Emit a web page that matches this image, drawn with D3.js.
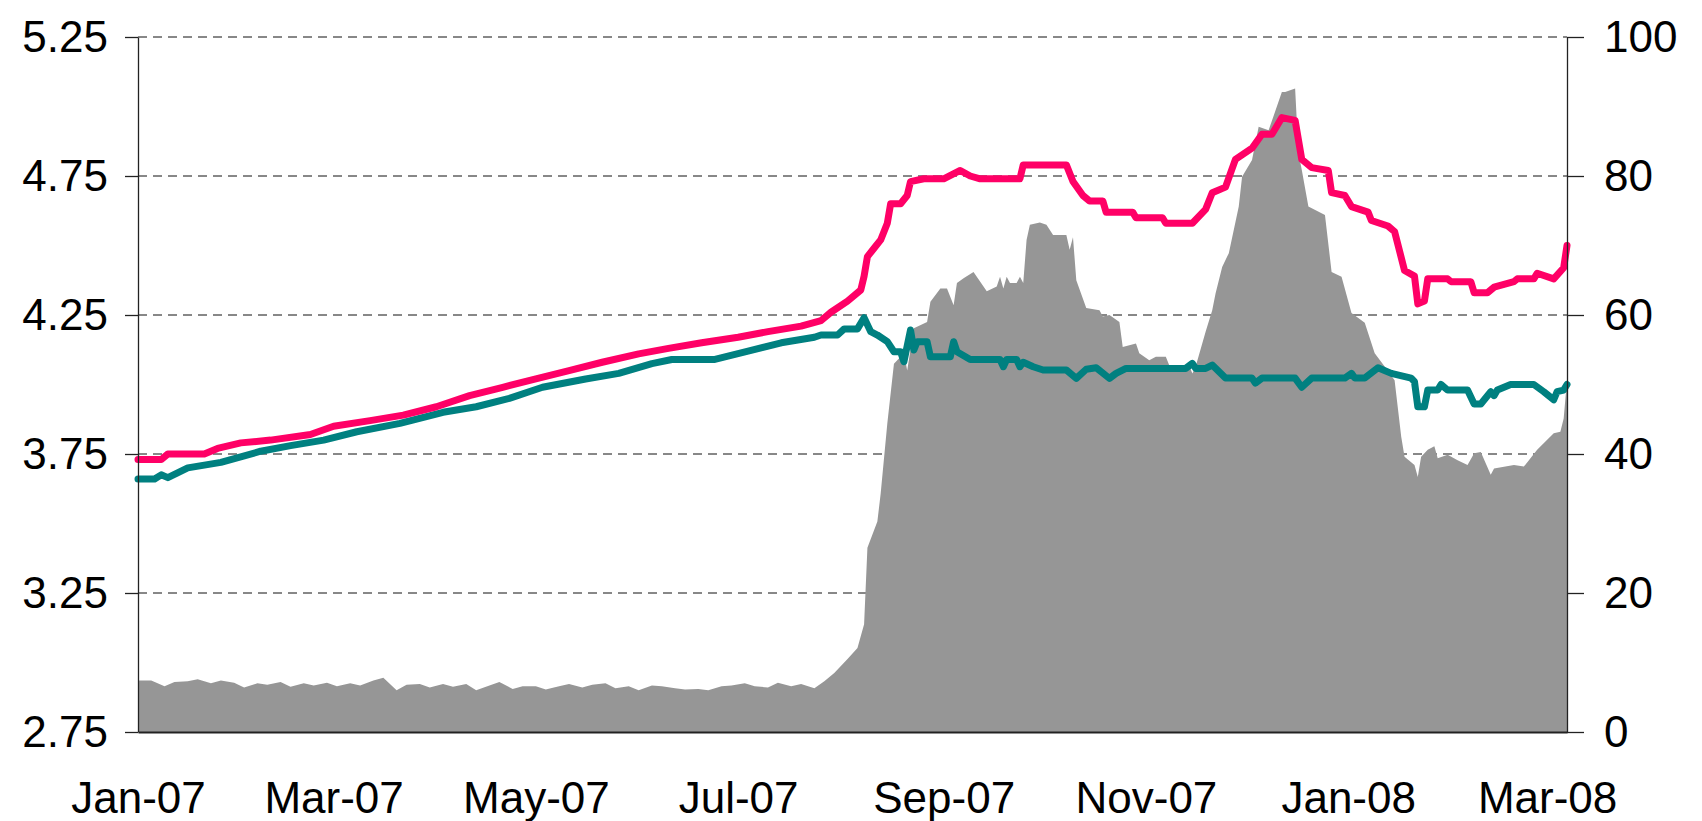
<!DOCTYPE html>
<html>
<head>
<meta charset="utf-8">
<script src="https://cdn.jsdelivr.net/npm/d3@7"></script>
<style>
  body { margin: 0; background: #fff; }
  svg text { font-family: "Liberation Sans", Arial, sans-serif; fill: #000; }
</style>
</head>
<body>
<div id="chart"></div>
<script>
// 3M rate (pink), OIS-type rate (teal) on the left axis, spread in bp (grey area) on the right axis

const euriborDates = [
  '2007-01-01','2007-01-08','2007-01-10','2007-01-21','2007-01-25','2007-02-01','2007-02-10','2007-02-22','2007-03-01','2007-03-12',
  '2007-03-22','2007-04-01','2007-04-11','2007-04-21','2007-05-01','2007-05-11','2007-05-21','2007-06-01','2007-06-10','2007-06-20',
  '2007-07-01','2007-07-10','2007-07-20','2007-07-26','2007-07-29','2007-08-03','2007-08-07','2007-08-08','2007-08-09','2007-08-11',
  '2007-08-13','2007-08-15','2007-08-16','2007-08-19','2007-08-21','2007-08-22','2007-08-26','2007-09-01','2007-09-06','2007-09-09',
  '2007-09-12','2007-09-24','2007-09-25','2007-10-08','2007-10-10','2007-10-13','2007-10-15','2007-10-19','2007-10-20','2007-10-28',
  '2007-10-29','2007-11-06','2007-11-07','2007-11-15','2007-11-19','2007-11-21','2007-11-25','2007-11-28','2007-12-03','2007-12-06',
  '2007-12-09','2007-12-12','2007-12-16','2007-12-17','2007-12-18','2007-12-21','2007-12-26','2007-12-27','2007-12-31','2008-01-02',
  '2008-01-07','2008-01-08','2008-01-13','2008-01-15','2008-01-18','2008-01-21','2008-01-22','2008-01-24','2008-01-25','2008-01-31',
  '2008-02-01','2008-02-07','2008-02-08','2008-02-12','2008-02-14','2008-02-20','2008-02-21','2008-02-26','2008-02-27','2008-03-03',
  '2008-03-06','2008-03-07'
];
const euriborValues = [
  3.73, 3.73, 3.75, 3.75, 3.77, 3.79, 3.80, 3.82, 3.85, 3.87,
  3.89, 3.92, 3.96, 3.99, 4.02, 4.05, 4.08, 4.11, 4.13, 4.15,
  4.17, 4.19, 4.21, 4.23, 4.26, 4.30, 4.34, 4.39, 4.46, 4.49,
  4.52, 4.58, 4.65, 4.65, 4.68, 4.73, 4.74, 4.74, 4.77, 4.75,
  4.74, 4.74, 4.79, 4.79, 4.73, 4.68, 4.66, 4.66, 4.62, 4.62,
  4.60, 4.60, 4.58, 4.58, 4.63, 4.69, 4.71, 4.81, 4.85, 4.90,
  4.90, 4.96, 4.95, 4.88, 4.81, 4.78, 4.77, 4.69, 4.68, 4.64,
  4.62, 4.59, 4.57, 4.55, 4.41, 4.39, 4.29, 4.30, 4.38, 4.38,
  4.37, 4.37, 4.33, 4.33, 4.35, 4.37, 4.38, 4.38, 4.40, 4.38,
  4.42, 4.50
];

const oisDates = [
  '2007-01-01','2007-01-06','2007-01-08','2007-01-10','2007-01-16','2007-01-26','2007-02-07','2007-02-16','2007-02-26','2007-03-08',
  '2007-03-21','2007-04-03','2007-04-13','2007-04-23','2007-05-03','2007-05-16','2007-05-26','2007-06-05','2007-06-11','2007-06-24',
  '2007-07-04','2007-07-14','2007-07-24','2007-07-26','2007-07-31','2007-08-02','2007-08-06','2007-08-08','2007-08-10','2007-08-12',
  '2007-08-15','2007-08-17','2007-08-19','2007-08-20','2007-08-22','2007-08-23','2007-08-24','2007-08-27','2007-08-28','2007-09-03',
  '2007-09-04','2007-09-05','2007-09-09','2007-09-18','2007-09-19','2007-09-20','2007-09-23','2007-09-24','2007-09-25','2007-09-28',
  '2007-10-01','2007-10-08','2007-10-11','2007-10-14','2007-10-17','2007-10-21','2007-10-23','2007-10-26','2007-11-13','2007-11-15',
  '2007-11-16','2007-11-19','2007-11-21','2007-11-25','2007-12-03','2007-12-04','2007-12-06','2007-12-16','2007-12-18','2007-12-21',
  '2007-12-31','2008-01-02','2008-01-03','2008-01-06','2008-01-10','2008-01-14','2008-01-20','2008-01-21','2008-01-22','2008-01-24',
  '2008-01-25','2008-01-28','2008-01-29','2008-01-31','2008-02-06','2008-02-08','2008-02-10','2008-02-13','2008-02-14','2008-02-15',
  '2008-02-19','2008-02-26','2008-02-29','2008-03-03','2008-03-04','2008-03-06','2008-03-07'
];
const oisValues = [
  3.66, 3.66, 3.675, 3.665, 3.70, 3.72, 3.76, 3.78, 3.80, 3.83,
  3.86, 3.90, 3.92, 3.95, 3.99, 4.02, 4.04, 4.075, 4.09, 4.09,
  4.12, 4.15, 4.17, 4.178, 4.178, 4.20, 4.20, 4.24, 4.19, 4.178,
  4.154, 4.118, 4.118, 4.082, 4.196, 4.124, 4.154, 4.154, 4.10, 4.10,
  4.154, 4.118, 4.09, 4.09, 4.064, 4.09, 4.09, 4.064, 4.08, 4.064,
  4.052, 4.052, 4.022, 4.055, 4.06, 4.022, 4.04, 4.058, 4.058, 4.076,
  4.058, 4.058, 4.07, 4.023, 4.023, 4.005, 4.023, 4.023, 3.99, 4.023,
  4.023, 4.04, 4.023, 4.023, 4.06, 4.04, 4.023, 4.01, 3.92, 3.92,
  3.98, 3.98, 4.00, 3.98, 3.98, 3.93, 3.93, 3.974, 3.96, 3.98,
  4.00, 4.00, 3.974, 3.945, 3.974, 3.98, 4.00
];

const spreadDates = [
  '2007-01-01','2007-01-05','2007-01-09','2007-01-12','2007-01-16','2007-01-19','2007-01-23','2007-01-26','2007-01-30','2007-02-02',
  '2007-02-06','2007-02-09','2007-02-13','2007-02-16','2007-02-20','2007-02-23','2007-02-27','2007-03-02','2007-03-06','2007-03-09',
  '2007-03-13','2007-03-16','2007-03-20','2007-03-23','2007-03-27','2007-03-30','2007-04-03','2007-04-06','2007-04-10','2007-04-13',
  '2007-04-17','2007-04-20','2007-04-24','2007-04-27','2007-05-01','2007-05-04','2007-05-08','2007-05-11','2007-05-15','2007-05-18',
  '2007-05-22','2007-05-25','2007-05-29','2007-06-01','2007-06-05','2007-06-08','2007-06-12','2007-06-15','2007-06-19','2007-06-22',
  '2007-06-26','2007-06-29','2007-07-03','2007-07-06','2007-07-10','2007-07-13','2007-07-17','2007-07-20','2007-07-24','2007-07-27',
  '2007-07-30','2007-08-03','2007-08-06','2007-08-08','2007-08-09','2007-08-12','2007-08-13','2007-08-15','2007-08-17','2007-08-20',
  '2007-08-21','2007-08-23','2007-08-27','2007-08-28','2007-08-31','2007-09-02','2007-09-04','2007-09-05','2007-09-07','2007-09-10',
  '2007-09-14','2007-09-17','2007-09-18','2007-09-19','2007-09-20','2007-09-21','2007-09-23','2007-09-24','2007-09-25','2007-09-26',
  '2007-09-27','2007-09-30','2007-10-02','2007-10-04','2007-10-08','2007-10-09','2007-10-10','2007-10-11','2007-10-14','2007-10-18',
  '2007-10-19','2007-10-21','2007-10-24','2007-10-25','2007-10-29','2007-10-30','2007-11-02','2007-11-04','2007-11-07','2007-11-08',
  '2007-11-14','2007-11-15','2007-11-16','2007-11-19','2007-11-21','2007-11-22','2007-11-24','2007-11-25','2007-11-26','2007-11-29',
  '2007-11-30','2007-12-03','2007-12-05','2007-12-08','2007-12-10','2007-12-12','2007-12-13','2007-12-16','2007-12-17','2007-12-18',
  '2007-12-20','2007-12-25','2007-12-27','2007-12-30','2008-01-02','2008-01-06','2008-01-09','2008-01-12','2008-01-15','2008-01-17',
  '2008-01-18','2008-01-21','2008-01-22','2008-01-23','2008-01-25','2008-01-27','2008-01-28','2008-01-31','2008-02-03','2008-02-06',
  '2008-02-08','2008-02-10','2008-02-13','2008-02-14','2008-02-20','2008-02-23','2008-02-27','2008-03-03','2008-03-05','2008-03-06',
  '2008-03-07'
];
const spreadValues = [
  7.4, 7.4, 6.6, 7.2, 7.3, 7.6, 7.0, 7.4, 7.1, 6.4,
  7.0, 6.8, 7.2, 6.5, 7.0, 6.7, 7.1, 6.6, 7.0, 6.7,
  7.4, 7.8, 6.0, 6.8, 6.9, 6.4, 6.9, 6.5, 6.9, 6.0,
  6.7, 7.2, 6.2, 6.6, 6.6, 6.1, 6.6, 6.9, 6.4, 6.8,
  7.0, 6.3, 6.6, 6.0, 6.7, 6.6, 6.3, 6.1, 6.2, 6.0,
  6.6, 6.7, 7.0, 6.6, 6.4, 7.1, 6.6, 6.9, 6.3, 7.3,
  8.5, 10.5, 12.1, 15.5, 26.5, 30.3, 34.3, 44.4, 53.0, 54.5,
  52.0, 58.1, 59.0, 61.9, 63.8, 63.8, 61.4, 64.6, 65.3, 66.2,
  63.4, 64.1, 65.5, 63.8, 65.5, 64.6, 64.6, 65.5, 64.6, 70.8,
  73.0, 73.3, 73.0, 71.5, 71.5, 69.4, 71.2, 65.0, 61.0, 60.7,
  59.8, 60.0, 59.0, 55.4, 55.9, 54.5, 53.5, 54.0, 54.0, 52.8,
  52.8, 51.6, 52.6, 57.6, 60.7, 63.1, 66.9, 67.9, 68.9, 75.6,
  79.9, 82.3, 87.1, 86.6, 89.3, 92.1, 92.1, 92.6, 83.3, 80.9,
  75.6, 74.4, 66.2, 65.5, 60.3, 58.9, 54.5, 52.6, 50.6, 42.5,
  39.6, 38.4, 36.7, 39.6, 40.6, 41.1, 39.4, 39.9, 39.1, 38.4,
  40.1, 40.3, 37.0, 37.9, 38.4, 38.2, 40.6, 43.0, 43.2, 45.1,
  50.6
];

const leftTicks = [2.75, 3.25, 3.75, 4.25, 4.75, 5.25];
const rightTicks = [0, 20, 40, 60, 80, 100];
const monthTicks = ['2007-01-01','2007-03-01','2007-05-01','2007-07-01','2007-09-01','2007-11-01','2008-01-01','2008-03-01'];

const parse = d3.timeParse('%Y-%m-%d');
const zip = (dates, values) => dates.map((d, i) => ({ date: parse(d), value: values[i] }));
const euribor = zip(euriborDates, euriborValues);
const ois = zip(oisDates, oisValues);
const spread = zip(spreadDates, spreadValues);

const W = 1702, H = 821;
const plot = { left: 138, right: 1567, top: 37, bottom: 732 };

const svg = d3.select('#chart').append('svg')
  .attr('width', W)
  .attr('height', H);

const x = d3.scaleTime()
  .domain([parse('2007-01-01'), parse('2008-03-07')])
  .range([plot.left, plot.right]);
const yLeft = d3.scaleLinear().domain([2.75, 5.25]).range([plot.bottom, plot.top]);
const yRight = d3.scaleLinear().domain([0, 100]).range([plot.bottom, plot.top]);

// dashed gridlines behind everything
svg.append('g')
  .selectAll('line')
  .data(leftTicks.slice(1))
  .enter()
  .append('line')
  .attr('x1', plot.left)
  .attr('x2', plot.right)
  .attr('y1', d => yLeft(d))
  .attr('y2', d => yLeft(d))
  .attr('stroke', '#111')
  .attr('stroke-width', 1)
  .attr('stroke-dasharray', '9,6');

// spread area (right axis)
svg.append('path')
  .datum(spread)
  .attr('fill', '#969696')
  .attr('d', d3.area()
    .x(d => x(d.date))
    .y0(yRight(0))
    .y1(d => yRight(d.value)));

// rate lines (left axis)
const line = d3.line()
  .x(d => x(d.date))
  .y(d => yLeft(d.value));

svg.append('path')
  .datum(ois)
  .attr('fill', 'none')
  .attr('stroke', '#008080')
  .attr('stroke-width', 7)
  .attr('stroke-linejoin', 'round')
  .attr('stroke-linecap', 'round')
  .attr('d', line);

svg.append('path')
  .datum(euribor)
  .attr('fill', 'none')
  .attr('stroke', '#FF0066')
  .attr('stroke-width', 7)
  .attr('stroke-linejoin', 'round')
  .attr('stroke-linecap', 'round')
  .attr('d', line);

// axes
const styleAxis = g => {
  g.selectAll('path.domain').attr('stroke', '#222').attr('stroke-width', 1.3);
  g.selectAll('.tick line').attr('stroke', '#222').attr('stroke-width', 1.3);
  g.selectAll('text').style('font-size', '44px').attr('fill', '#000');
};

svg.append('g')
  .attr('transform', `translate(${plot.left},0)`)
  .call(d3.axisLeft(yLeft)
    .tickValues(leftTicks)
    .tickSize(13)
    .tickSizeOuter(0)
    .tickPadding(17)
    .tickFormat(d3.format('.2f')))
  .call(styleAxis)
  .call(g => g.selectAll('text').attr('dy', '0.33em'));

svg.append('g')
  .attr('transform', `translate(${plot.right},0)`)
  .call(d3.axisRight(yRight)
    .tickValues(rightTicks)
    .tickSize(17)
    .tickSizeOuter(0)
    .tickPadding(20))
  .call(styleAxis)
  .call(g => g.selectAll('text').attr('dy', '0.33em'));

svg.append('g')
  .attr('transform', `translate(0,${plot.bottom})`)
  .call(d3.axisBottom(x)
    .tickValues(monthTicks.map(parse))
    .tickSize(0)
    .tickSizeOuter(0)
    .tickPadding(50)
    .tickFormat(d3.timeFormat('%b-%y')))
  .call(styleAxis)
  .call(g => g.select('path.domain').attr('stroke-width', 2));
</script>
</body>
</html>
